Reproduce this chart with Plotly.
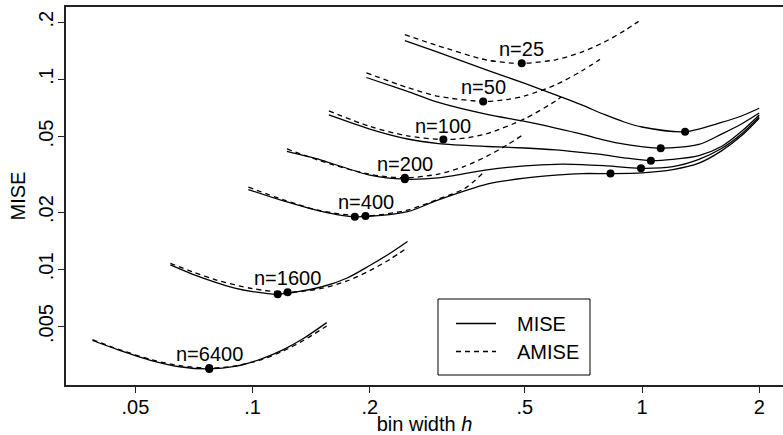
import numpy as np
import plotly.graph_objects as go

# Bin widths h and the exact MISE / asymptotic AMISE of a histogram, per sample size n
h_mise_25 = [0.246, 0.3, 0.4, 0.5, 0.6, 0.7, 0.8, 0.9, 1.0, 1.29, 1.6, 1.8, 2.0]
mise_25 = [0.1596, 0.1384, 0.1119, 0.0951, 0.0827, 0.0733, 0.0653, 0.0596, 0.0561, 0.0530, 0.0593, 0.0641, 0.0704]
h_amise_25 = [0.246, 0.3, 0.4, 0.491, 0.6, 0.7, 0.8, 0.9, 0.98]
amise_25 = [0.1718, 0.150, 0.1262, 0.1214, 0.1267, 0.1390, 0.1570, 0.1799, 0.2018]

h_mise_50 = [0.196, 0.25, 0.3, 0.4, 0.5, 0.6, 0.7, 0.8, 0.9, 1.117, 1.4, 1.6, 1.8, 2.0]
mise_50 = [0.1022, 0.0863, 0.0755, 0.0653, 0.0600, 0.0554, 0.0515, 0.0479, 0.0456, 0.0434, 0.0454, 0.0515, 0.0582, 0.0665]
h_amise_50 = [0.196, 0.25, 0.3, 0.391, 0.45, 0.5, 0.6, 0.7, 0.78]
amise_50 = [0.1081, 0.0905, 0.0814, 0.0765, 0.0782, 0.0818, 0.0935, 0.1106, 0.1273]

h_mise_100 = [0.157, 0.2, 0.25, 0.3, 0.4, 0.5, 0.6, 0.7, 0.8, 0.9, 1.054, 1.2, 1.4, 1.6, 1.8, 2.0]
mise_100 = [0.0649, 0.0547, 0.0485, 0.0459, 0.0443, 0.0435, 0.0425, 0.0412, 0.0400, 0.0386, 0.0373, 0.0379, 0.0397, 0.0443, 0.0531, 0.0649]
h_amise_100 = [0.157, 0.2, 0.25, 0.309, 0.35, 0.4, 0.5, 0.6, 0.62]
amise_100 = [0.0682, 0.0565, 0.0504, 0.0482, 0.0490, 0.0518, 0.0620, 0.0769, 0.0807]

h_mise_200 = [0.1225, 0.15, 0.2, 0.246, 0.3, 0.4, 0.5, 0.6, 0.7, 0.8, 0.994, 1.2, 1.4, 1.6, 1.8, 2.0]
mise_200 = [0.0417, 0.0376, 0.0313, 0.0298, 0.0303, 0.0334, 0.0350, 0.0357, 0.0356, 0.0351, 0.0340, 0.0347, 0.0379, 0.0432, 0.0515, 0.0636]
h_amise_200 = [0.1225, 0.15, 0.2, 0.246, 0.3, 0.35, 0.4, 0.45, 0.49]
amise_200 = [0.0430, 0.0371, 0.0316, 0.0303, 0.0317, 0.0348, 0.0394, 0.0451, 0.0504]

h_mise_400 = [0.0975, 0.12, 0.15, 0.183, 0.25, 0.3, 0.4, 0.5, 0.6, 0.7, 0.83, 1.0, 1.2, 1.4, 1.6, 1.8, 2.0]
mise_400 = [0.0263, 0.0229, 0.0202, 0.0189, 0.0201, 0.0232, 0.0281, 0.0302, 0.0313, 0.0319, 0.0319, 0.0322, 0.0335, 0.0362, 0.0420, 0.0504, 0.0624]
h_amise_400 = [0.0975, 0.12, 0.15, 0.195, 0.25, 0.3, 0.35, 0.393]
amise_400 = [0.0271, 0.0232, 0.0203, 0.0191, 0.0205, 0.0234, 0.0266, 0.0325]

h_mise_1600 = [0.0615, 0.07, 0.08, 0.09, 0.1, 0.116, 0.15, 0.175, 0.2, 0.225, 0.25]
mise_1600 = [0.01055, 0.00944, 0.00857, 0.00797, 0.00764, 0.00739, 0.00807, 0.00900, 0.01047, 0.01211, 0.01400]
h_amise_1600 = [0.0615, 0.07, 0.08, 0.1, 0.123, 0.15, 0.175, 0.2, 0.225, 0.25]
amise_1600 = [0.01074, 0.00971, 0.00883, 0.00791, 0.00757, 0.00793, 0.00869, 0.00984, 0.01127, 0.01300]

h_mise_6400 = [0.0388, 0.045, 0.055, 0.065, 0.0774, 0.09, 0.105, 0.12, 0.135, 0.155]
mise_6400 = [0.00422, 0.00378, 0.00331, 0.00307, 0.00299, 0.00308, 0.00337, 0.00378, 0.00432, 0.00524]
h_amise_6400 = [0.0388, 0.045, 0.055, 0.065, 0.0774, 0.09, 0.105, 0.12, 0.135, 0.155]
amise_6400 = [0.00426, 0.00381, 0.00334, 0.00311, 0.00302, 0.00310, 0.00334, 0.00372, 0.00422, 0.00503]

# Minimisers: AMISE optimum (labelled) and the MISE minima (global and local)
sample_sizes = [25, 50, 100, 200, 400, 1600, 6400]
h_amise_opt = [0.491, 0.391, 0.309, 0.246, 0.195, 0.123, 0.0774]
amise_opt = [0.1214, 0.0765, 0.0482, 0.0303, 0.0191, 0.00757, 0.00302]
h_mise_opt = [1.29, 1.117, 1.054, 0.246, 0.994, 0.183, 0.83, 0.116, 0.0774]
mise_opt = [0.0530, 0.0434, 0.0373, 0.0298, 0.0340, 0.0189, 0.0319, 0.00739, 0.00299]

# Axis ticks
x_tickvals = [0.05, 0.1, 0.2, 0.5, 1, 2]
x_ticktext = [".05", ".1", ".2", ".5", "1", "2"]
y_tickvals = [0.005, 0.01, 0.02, 0.05, 0.1, 0.2]
y_ticktext = [".005", ".01", ".02", ".05", ".1", ".2"]

FONT = "Liberation Sans, Arial, Helvetica, sans-serif"
DASH = "5px,4px"
LW = 1.3

mise_curves = [(h_mise_25, mise_25), (h_mise_50, mise_50), (h_mise_100, mise_100),
               (h_mise_200, mise_200), (h_mise_400, mise_400),
               (h_mise_1600, mise_1600), (h_mise_6400, mise_6400)]
amise_curves = [(h_amise_25, amise_25), (h_amise_50, amise_50), (h_amise_100, amise_100),
                (h_amise_200, amise_200), (h_amise_400, amise_400),
                (h_amise_1600, amise_1600), (h_amise_6400, amise_6400)]

fig = go.Figure()
for n, (hx, vy) in zip(sample_sizes, amise_curves):
    fig.add_trace(go.Scatter(x=hx, y=vy, mode="lines", name=f"AMISE n={n}",
                             line=dict(color="black", width=LW, dash=DASH, shape="spline", smoothing=0.8),
                             showlegend=False, hoverinfo="skip"))
for n, (hx, vy) in zip(sample_sizes, mise_curves):
    fig.add_trace(go.Scatter(x=hx, y=vy, mode="lines", name=f"MISE n={n}",
                             line=dict(color="black", width=LW, shape="spline", smoothing=0.8),
                             showlegend=False, hoverinfo="skip"))

fig.add_trace(go.Scatter(x=h_amise_opt + h_mise_opt, y=amise_opt + mise_opt, mode="markers",
                         marker=dict(color="black", size=8), showlegend=False, hoverinfo="skip"))

# sample-size labels above each AMISE optimum
for n, hx, vy in zip(sample_sizes, h_amise_opt, amise_opt):
    fig.add_annotation(x=np.log10(hx), y=np.log10(vy), text=f"n={n}", showarrow=False,
                       xanchor="center", yanchor="middle", yshift=14,
                       font=dict(family=FONT, size=20, color="black"))

# key box
L, T = 66, 7
PW, PH = 717, 378
def px(x):
    return (x - L) / PW
def py(y):
    return (T + PH - y) / PH

fig.add_shape(type="rect", xref="paper", yref="paper", x0=px(438), x1=px(590), y0=py(375), y1=py(299),
              line=dict(color="black", width=1), fillcolor="white", layer="above")
fig.add_shape(type="line", xref="paper", yref="paper", x0=px(456), x1=px(496), y0=py(323.5), y1=py(323.5),
              line=dict(color="black", width=LW))
fig.add_shape(type="line", xref="paper", yref="paper", x0=px(456), x1=px(496), y0=py(351.5), y1=py(351.5),
              line=dict(color="black", width=LW, dash=DASH))
for label, yy in [("MISE", 323.5), ("AMISE", 351.5)]:
    fig.add_annotation(xref="paper", yref="paper", x=px(515), y=py(yy), text=label, showarrow=False,
                       xanchor="left", yanchor="middle", font=dict(family=FONT, size=20, color="black"))

axis_common = dict(showgrid=False, zeroline=False, showline=True, linecolor="#222", linewidth=1.6,
                   ticks="outside", ticklen=6, tickwidth=1.4, tickcolor="#222",
                   tickfont=dict(family=FONT, size=20, color="black"))

fig.update_layout(
    width=783, height=435,
    margin=dict(l=L, r=0, t=T, b=435 - T - PH),
    plot_bgcolor="white", paper_bgcolor="white",
    xaxis=dict(type="log", range=[-1.4792, 0.3621], tickvals=x_tickvals, ticktext=x_ticktext,
               mirror=True, ticklabelstandoff=-3,
               title=dict(text="bin width <i>h</i>", font=dict(family=FONT, size=20, color="black"), standoff=2),
               **axis_common),
    yaxis=dict(type="log", range=[-2.6089, -0.6195], tickvals=y_tickvals, ticktext=y_ticktext,
               tickangle=-90, ticklabelstandoff=-3,
               title=dict(text="MISE", font=dict(family=FONT, size=20, color="black"), standoff=4),
               **axis_common),
    showlegend=False,
)

fig.write_html("out.html", config={"displayModeBar": False})
